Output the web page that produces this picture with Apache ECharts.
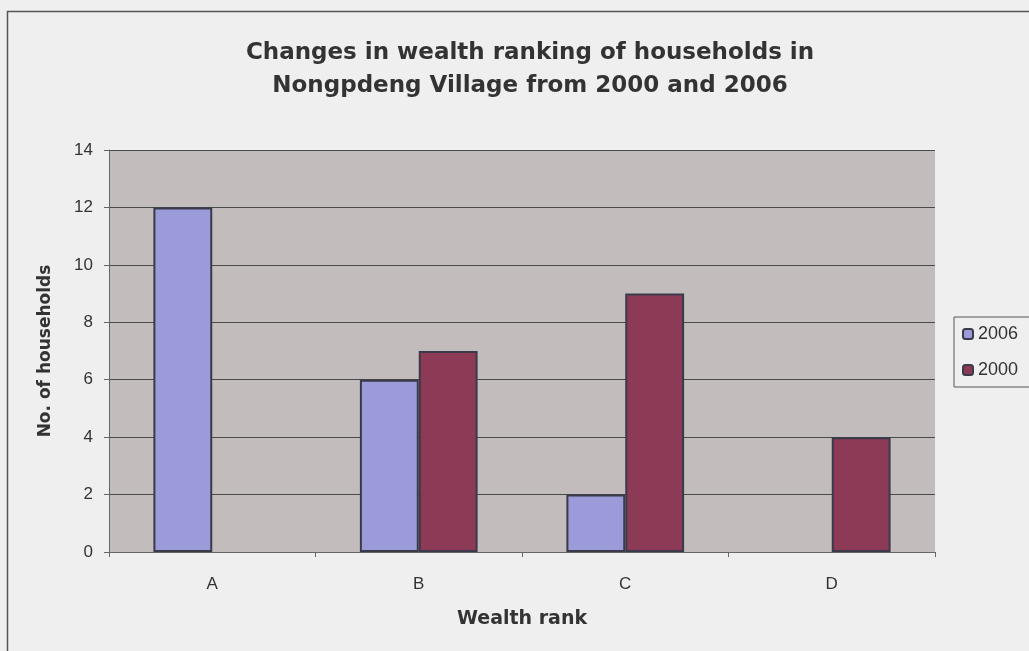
<!DOCTYPE html>
<html>
<head>
<meta charset="utf-8">
<script src="https://cdn.jsdelivr.net/npm/echarts@6/dist/echarts.min.js"></script>
<style>
  html, body { margin: 0; padding: 0; background: #efefef; }
  #chart { width: 1029px; height: 651px; }
</style>
</head>
<body>
<div id="chart"></div>
<script>
// wealth rank categories
const ranks = ['A', 'B', 'C', 'D'];
// households per rank
const y2006 = [12, 6, 2, 0];
const y2000 = [0, 7, 9, 4];
const yTicks = [0, 2, 4, 6, 8, 10, 12, 14];

// zero values get no bar outline (like the original)
function barData(arr) {
  return arr.map(function (v) {
    return v === 0 ? { value: v, itemStyle: { borderWidth: 0 } } : v;
  });
}

let chart = echarts.init(document.getElementById('chart'));
chart.setOption({
  backgroundColor: '#efefef',
  animation: false,
  title: {
    text: 'Changes in wealth ranking of households in\nNongpdeng Village from 2000 and 2006',
    left: 525,
    top: 32,
    textAlign: 'center',
    textStyle: {
      fontFamily: 'DejaVu Sans',
      fontWeight: 'bold',
      fontSize: 23,
      lineHeight: 33,
      color: '#333'
    }
  },
  graphic: [{
    type: 'rect',
    shape: { x: 7.5, y: 11.5, width: 1040, height: 660 },
    style: { fill: 'none', stroke: '#555', lineWidth: 1.5 }
  }],
  legend: {
    orient: 'vertical',
    left: 954,
    top: 317,
    padding: [8, 20, 8, 8],
    itemGap: 18,
    itemWidth: 10,
    itemHeight: 10,
    borderColor: '#555',
    borderWidth: 1,
    backgroundColor: '#efefef',
    textStyle: { fontFamily: 'Liberation Sans', fontSize: 18, color: '#333' },
    data: ['2006', '2000']
  },
  grid: {
    left: 109,
    top: 150,
    right: 94,
    bottom: 99,
    show: true,
    backgroundColor: '#c2bcbd',
    borderWidth: 0
  },
  xAxis: {
    type: 'category',
    data: ranks,
    name: 'Wealth rank',
    nameLocation: 'middle',
    nameGap: 58,
    nameTextStyle: { fontFamily: 'DejaVu Sans', fontWeight: 'bold', fontSize: 19, color: '#333' },
    axisLine: { lineStyle: { color: '#666', width: 1 } },
    axisTick: { show: true, length: 5, lineStyle: { color: '#666' } },
    axisLabel: { fontFamily: 'Liberation Sans', fontSize: 17, color: '#333', margin: 24 }
  },
  yAxis: {
    type: 'value',
    min: yTicks[0],
    max: yTicks[yTicks.length - 1],
    interval: 2,
    name: 'No. of households',
    nameLocation: 'middle',
    nameGap: 55,
    nameTextStyle: { fontFamily: 'DejaVu Sans', fontWeight: 'bold', fontSize: 17, color: '#333' },
    axisLine: { show: true, lineStyle: { color: '#666', width: 1 } },
    axisTick: { show: true, length: 5, lineStyle: { color: '#666' } },
    axisLabel: { fontFamily: 'Liberation Sans', fontSize: 17, color: '#333', margin: 16 },
    splitLine: { lineStyle: { color: '#4a4a4a', width: 1 } }
  },
  series: [
    {
      name: '2006',
      type: 'bar',
      data: barData(y2006),
      barGap: '0%',
      barCategoryGap: '43%',
      itemStyle: { color: '#9b9bd9', borderColor: '#3a3a4a', borderWidth: 2 }
    },
    {
      name: '2000',
      type: 'bar',
      data: barData(y2000),
      itemStyle: { color: '#8c3a55', borderColor: '#3a3a4a', borderWidth: 2 }
    }
  ]
});
</script>
</body>
</html>
